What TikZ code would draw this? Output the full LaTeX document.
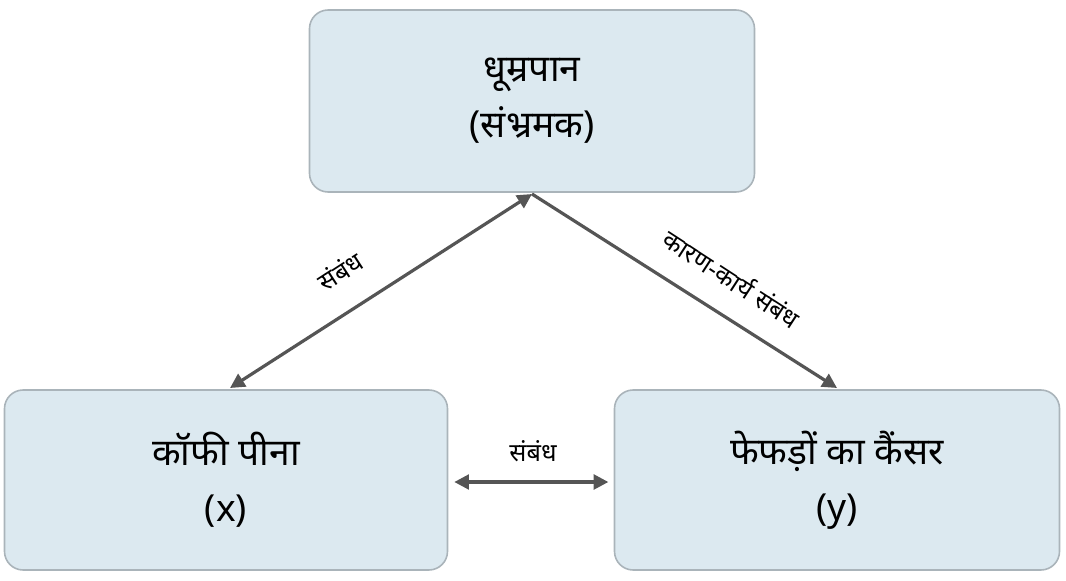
\documentclass[tikz,border=0pt]{standalone}
\usepackage{fontspec}
\setmainfont{Noto Sans}[Script=Devanagari]
\usetikzlibrary{arrows.meta}
\definecolor{boxfill}{RGB}{220,233,240}
\definecolor{boxline}{RGB}{170,180,186}
\definecolor{arr}{RGB}{85,85,85}
\begin{document}
\begin{tikzpicture}[x=0.0264cm,y=-0.0264cm,
  box/.style={draw=boxline,line width=1.2pt,fill=boxfill,rounded corners=14pt,align=center,font=\fontsize{28}{42}\selectfont},
  con/.style={draw=arr,line width=2.4pt,-{Triangle[length=11pt,width=11pt]}},
  lab/.style={font=\fontsize{19}{22}\selectfont}]
\useasboundingbox (0,0) rectangle (1066,580);
\node[box,minimum width=445*0.0264cm,minimum height=182*0.0264cm] (s) at (532,101) {धूम्रपान\\(संभ्रमक)};
\node[box,minimum width=443*0.0264cm,minimum height=180*0.0264cm] (c) at (226,480) {कॉफी पीना\\(x)};
\node[box,minimum width=445*0.0264cm,minimum height=180*0.0264cm] (l) at (837,480) {फेफड़ों का कैंसर\\(y)};
\coordinate (a) at (532,194);
\coordinate (b) at (230,388);
\coordinate (d) at (837,388);
\draw[con,{Triangle[length=11pt,width=11pt]}-{Triangle[length=11pt,width=11pt]}] (b) -- (a);
\draw[con] (a) -- (d);
\draw[con,{Triangle[length=11pt,width=11pt]}-{Triangle[length=11pt,width=11pt]}] (c.east)++(6,2) coordinate (ce) -- ([xshift=-4]l.west|-ce);
\node[lab,rotate=33] (t1) at (340,271) {संबंध};
\node[lab,rotate=-33] (t2) at (732,278) {कारण-कार्य संबंध};
\node[lab] (t3) at (533,451) {संबंध};
\end{tikzpicture}
\end{document}
